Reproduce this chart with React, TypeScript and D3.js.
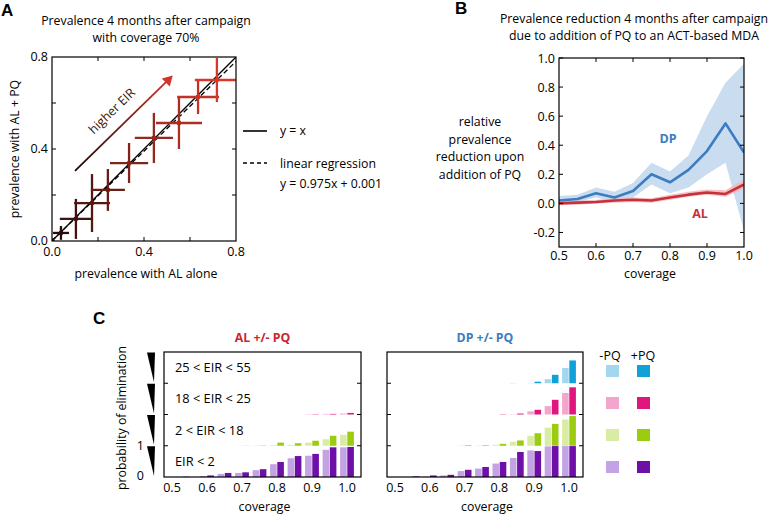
import React from 'react';
import * as d3 from 'd3';

// ---------- Panel A data ----------
const prevAlAlone = [0.0, 0.039, 0.104, 0.174, 0.243, 0.335, 0.443, 0.552, 0.635, 0.717];
const prevAlPq = [0.0, 0.035, 0.096, 0.165, 0.222, 0.339, 0.448, 0.513, 0.626, 0.7];
const errAlAlone = [0.01, 0.035, 0.07, 0.078, 0.074, 0.083, 0.083, 0.1, 0.091, 0.096];
const errAlPq = [0.01, 0.03, 0.087, 0.126, 0.091, 0.087, 0.109, 0.113, 0.074, 0.096];
const regSlope = 0.975;
const regIntercept = 0.001;
const ticksA = [0, 0.2, 0.4, 0.6, 0.8];
const labelsA = [0, 0.4, 0.8];

// ---------- Panel B data ----------
const coverage = [0.5, 0.55, 0.6, 0.65, 0.7, 0.75, 0.8, 0.85, 0.9, 0.95, 1.0];
const dpMean = [0.02, 0.03, 0.07, 0.04, 0.085, 0.2, 0.145, 0.23, 0.36, 0.55, 0.35];
const dpLow = [0.0, 0.01, 0.04, 0.01, 0.04, 0.13, 0.07, 0.11, 0.2, 0.28, -0.19];
const dpHigh = [0.05, 0.06, 0.11, 0.08, 0.14, 0.28, 0.22, 0.33, 0.6, 0.83, 0.96];
const alMean = [0.0, 0.005, 0.01, 0.02, 0.025, 0.02, 0.04, 0.06, 0.075, 0.065, 0.13];
const alLow = [-0.01, -0.01, 0.0, 0.005, 0.01, 0.005, 0.025, 0.045, 0.06, 0.045, 0.1];
const alHigh = [0.015, 0.02, 0.025, 0.035, 0.04, 0.035, 0.06, 0.08, 0.095, 0.09, 0.165];
const ticksBy = [-0.2, 0, 0.2, 0.4, 0.6, 0.8, 1.0];
const ticksBx = [0.5, 0.6, 0.7, 0.8, 0.9, 1.0];

// ---------- Panel C data (probability of elimination) ----------
const eirBands = ['EIR < 2', '2 < EIR < 18', '18 < EIR < 25', '25 < EIR < 55'];
// AL -PQ / +PQ
const alNoPqEir2 = [0, 0.02, 0.03, 0.1, 0.13, 0.22, 0.41, 0.6, 0.68, 0.87, 0.95];
const alPqEir2 = [0, 0.0, 0.05, 0.13, 0.15, 0.25, 0.48, 0.67, 0.74, 0.95, 0.96];
const alNoPqEir18 = [0, 0, 0, 0, 0.005, 0.01, 0.02, 0.03, 0.1, 0.21, 0.35];
const alPqEir18 = [0, 0, 0, 0, 0.005, 0.01, 0.1, 0.08, 0.16, 0.32, 0.45];
const alNoPqEir25 = [0, 0, 0, 0, 0, 0, 0, 0, 0.01, 0.02, 0.03];
const alPqEir25 = [0, 0, 0, 0, 0, 0, 0, 0, 0.01, 0.02, 0.05];
const alNoPqEir55 = [0, 0, 0, 0, 0, 0, 0, 0, 0, 0, 0];
const alPqEir55 = [0, 0, 0, 0, 0, 0, 0, 0, 0, 0, 0];
// DP -PQ / +PQ
const dpNoPqEir2 = [0, 0, 0.01, 0.05, 0.19, 0.27, 0.43, 0.61, 0.85, 0.98, 0.99];
const dpPqEir2 = [0, 0.02, 0.05, 0.07, 0.23, 0.32, 0.48, 0.8, 0.83, 0.99, 0.99];
const dpNoPqEir18 = [0, 0, 0, 0, 0.01, 0.01, 0.03, 0.13, 0.32, 0.58, 0.84];
const dpPqEir18 = [0, 0, 0, 0, 0.02, 0.02, 0.06, 0.17, 0.4, 0.7, 0.95];
const dpNoPqEir25 = [0, 0, 0, 0, 0, 0, 0, 0.01, 0.1, 0.27, 0.69];
const dpPqEir25 = [0, 0, 0, 0, 0, 0, 0.01, 0.03, 0.15, 0.47, 0.87];
const dpNoPqEir55 = [0, 0, 0, 0, 0, 0, 0, 0.01, 0.01, 0.13, 0.49];
const dpPqEir55 = [0, 0, 0, 0, 0, 0, 0, 0, 0.05, 0.27, 0.73];
const ticksCx = [0.5, 0.6, 0.7, 0.8, 0.9, 1.0];

const bandLight = ['#c3a3e3', '#d9eca4', '#f3a5cb', '#a3d7ee'];
const bandDark = ['#6e0fa8', '#9bcc12', '#e0157d', '#12a0d8'];

const FONT = "'Open Sans', sans-serif";
const BOLDF = "'Liberation Sans', Arial, sans-serif";

function PanelA() {
  const x = d3.scaleLinear().domain([0, 0.8]).range([52, 236]);
  const y = d3.scaleLinear().domain([0, 0.8]).range([241, 57]);
  const col = d3.scaleLinear<string>().domain([0, prevAlAlone.length - 1]).range(['#120808', '#d8382a']).interpolate(d3.interpolateRgb);
  const line = d3.line<number>().x((v) => x(v)).y((v) => y(v));
  const regLine = d3.line<number>().x((v) => x(v)).y((v) => y(regSlope * v + regIntercept));
  const ax0 = x(0.1), ay0 = y(0.305), ax1 = x(0.525), ay1 = y(0.72);
  const ang = (Math.atan2(ay1 - ay0, ax1 - ax0) * 180) / Math.PI;
  return (
    <g>
      <defs>
        <linearGradient id="arrGrad" gradientUnits="userSpaceOnUse" x1={ax0} y1={ay0} x2={ax1} y2={ay1}>
          <stop offset="0" stopColor="#1a0808" />
          <stop offset="1" stopColor="#d0362a" />
        </linearGradient>
        <clipPath id="clipA"><rect x={52} y={57} width={184} height={184} /></clipPath>
      </defs>
      <text x={1} y={16} fontFamily={BOLDF} fontWeight="bold" fontSize={17}>A</text>
      <text x={146} y={25} textAnchor="middle" fontFamily={FONT} fontSize={12.3}>Prevalence 4 months after campaign</text>
      <text x={146} y={42} textAnchor="middle" fontFamily={FONT} fontSize={12.3}>with coverage 70%</text>
      <g clipPath="url(#clipA)">
        <path d={line([0, 0.8]) || ''} stroke="#000" strokeWidth={1.3} fill="none" />
        <path d={regLine([0, 0.8]) || ''} stroke="#000" strokeWidth={1.3} strokeDasharray="5,3" fill="none" />
        {prevAlAlone.map((v, i) => (
          <g key={i} stroke={col(i)} strokeWidth={2.3}>
            <line x1={x(v - errAlAlone[i])} x2={x(v + errAlAlone[i])} y1={y(prevAlPq[i])} y2={y(prevAlPq[i])} />
            <line x1={x(v)} x2={x(v)} y1={y(prevAlPq[i] - errAlPq[i])} y2={y(prevAlPq[i] + errAlPq[i])} />
            <circle cx={x(v)} cy={y(prevAlPq[i])} r={2.4} fill={col(i)} stroke="none" />
          </g>
        ))}
      </g>
      <line x1={ax0} y1={ay0} x2={ax1 - 6} y2={ay1 + 6} stroke="url(#arrGrad)" strokeWidth={1.8} />
      <path d={`M${ax1},${ay1} l-11,3 l8,8 z`} fill="#d0362a" />
      <text transform={`translate(${(ax0 + ax1) / 2 - 9},${(ay0 + ay1) / 2 - 9}) rotate(${ang})`} textAnchor="middle" fontFamily={FONT} fontSize={12.5} fill="#3a1410">higher EIR</text>
      <rect x={52} y={57} width={184} height={184} fill="none" stroke="#000" strokeWidth={1.2} />
      {ticksA.slice(1, -1).map((t) => (
        <g key={t} stroke="#000" strokeWidth={1}>
          <line x1={x(t)} x2={x(t)} y1={241} y2={237} />
          <line x1={x(t)} x2={x(t)} y1={57} y2={61} />
          <line x1={52} x2={56} y1={y(t)} y2={y(t)} />
          <line x1={236} x2={232} y1={y(t)} y2={y(t)} />
        </g>
      ))}
      {labelsA.map((t) => (
        <g key={t} fontFamily={FONT} fontSize={12.5}>
          <text x={48} y={y(t) + 4} textAnchor="end">{t.toFixed(1)}</text>
          <text x={x(t)} y={256} textAnchor="middle">{t.toFixed(1)}</text>
        </g>
      ))}
      <text transform={`translate(19,149) rotate(-90)`} textAnchor="middle" fontFamily={FONT} fontSize={12.3}>prevalence with AL + PQ</text>
      <text x={146} y={278} textAnchor="middle" fontFamily={FONT} fontSize={12.3}>prevalence with AL alone</text>
      <line x1={243} x2={267} y1={131} y2={131} stroke="#000" strokeWidth={1.6} />
      <text x={280} y={135} fontFamily={FONT} fontSize={12.3}>y = x</text>
      <line x1={243} x2={267} y1={163} y2={163} stroke="#000" strokeWidth={1.6} strokeDasharray="4,3" />
      <text x={280} y={168} fontFamily={FONT} fontSize={12.3}>linear regression</text>
      <text x={280} y={188} fontFamily={FONT} fontSize={12.3}>y = 0.975x + 0.001</text>
    </g>
  );
}

function PanelB() {
  const x = d3.scaleLinear().domain([0.5, 1.0]).range([559, 744]);
  const y = d3.scaleLinear().domain([-0.3, 1.0]).range([247, 58]);
  const idx = coverage.map((_, i) => i);
  const area = (lo: number[], hi: number[]) =>
    d3.area<number>().x((i) => x(coverage[i])).y0((i) => y(lo[i])).y1((i) => y(hi[i]))(idx) || '';
  const ln = (m: number[]) => d3.line<number>().x((i) => x(coverage[i])).y((i) => y(m[i]))(idx) || '';
  return (
    <g>
      <defs>
        <clipPath id="clipB"><rect x={559} y={58} width={185} height={189} /></clipPath>
      </defs>
      <text x={455} y={14} fontFamily={BOLDF} fontWeight="bold" fontSize={17}>B</text>
      <text x={634} y={23} textAnchor="middle" fontFamily={FONT} fontSize={12.3}>Prevalence reduction 4 months after campaign</text>
      <text x={634} y={40} textAnchor="middle" fontFamily={FONT} fontSize={12.3}>due to addition of PQ to an ACT-based MDA</text>
      <g clipPath="url(#clipB)">
        <path d={area(dpLow, dpHigh)} fill="#c9dcf0" />
        <path d={area(alLow, alHigh)} fill="#f2b7bb" opacity={0.85} />
        <path d={ln(dpMean)} stroke="#3b7dc0" strokeWidth={2.6} fill="none" strokeLinejoin="round" />
        <path d={ln(alMean)} stroke="#c8303a" strokeWidth={2.6} fill="none" strokeLinejoin="round" />
      </g>
      <rect x={559} y={58} width={185} height={189} fill="none" stroke="#000" strokeWidth={1.2} />
      {ticksBy.map((t) => (
        <g key={t} stroke="#000">
          <line x1={559} x2={563} y1={y(t)} y2={y(t)} />
          <line x1={744} x2={740} y1={y(t)} y2={y(t)} />
        </g>
      ))}
      {ticksBx.slice(1, -1).map((t) => (
        <g key={t} stroke="#000">
          <line x1={x(t)} x2={x(t)} y1={58} y2={62} />
          <line x1={x(t)} x2={x(t)} y1={247} y2={243} />
        </g>
      ))}
      {ticksBy.map((t) => (
        <text key={t} x={555} y={y(t) + 4.5} textAnchor="end" fontFamily={FONT} fontSize={12.5}>{t.toFixed(1)}</text>
      ))}
      {ticksBx.map((t) => (
        <text key={t} x={x(t)} y={260} textAnchor="middle" fontFamily={FONT} fontSize={12.5}>{t.toFixed(1)}</text>
      ))}
      <text x={650} y={278} textAnchor="middle" fontFamily={FONT} fontSize={12.3}>coverage</text>
      {['relative', 'prevalence', 'reduction upon', 'addition of PQ'].map((s, i) => (
        <text key={s} x={480} y={126 + i * 17.5} textAnchor="middle" fontFamily={FONT} fontSize={12.3}>{s}</text>
      ))}
      <text x={668} y={143} textAnchor="middle" fontFamily={FONT} fontWeight="bold" fontSize={12.5} fill="#3b7dc0">DP</text>
      <text x={700} y={218} textAnchor="middle" fontFamily={FONT} fontWeight="bold" fontSize={12.5} fill="#c8303a">AL</text>
    </g>
  );
}

type BarSet = { noPq: number[]; pq: number[] };

function PanelCBars({ left, right, sets, title, titleColor, showBandLabels }: { left: number; right: number; sets: BarSet[]; title: string; titleColor: string; showBandLabels: boolean }) {
  const top = 352, bottom = 477;
  const bh = (bottom - top) / 4;
  const x = d3.scaleLinear().domain([0.5, 1.0]).range([left + 8, right - 14]);
  const bw = 6.6;
  return (
    <g>
      <text x={(left + right) / 2} y={342} textAnchor="middle" fontFamily={FONT} fontWeight="bold" fontSize={12.3} fill={titleColor}>{title}</text>
      {sets.map((s, k) => {
        const y = d3.scaleLinear().domain([0, 1]).range([bottom - k * bh, bottom - (k + 1) * bh]);
        return (
          <g key={k}>
            {coverage.map((c, i) => (
              <g key={i}>
                {s.noPq[i] > 0 && <rect x={x(c) - bw - 0.3} width={bw} y={y(s.noPq[i])} height={y(0) - y(s.noPq[i])} fill={bandLight[k]} />}
                {s.pq[i] > 0 && <rect x={x(c) + 0.3} width={bw} y={y(s.pq[i])} height={y(0) - y(s.pq[i])} fill={bandDark[k]} />}
              </g>
            ))}
            {showBandLabels && (
              <text x={left + 11} y={bottom - k * bh - bh / 2 + 4.5} fontFamily={FONT} fontSize={12.8}>{eirBands[k]}</text>
            )}
          </g>
        );
      })}
      <rect x={left} y={top} width={right - left} height={bottom - top} fill="none" stroke="#000" strokeWidth={1.2} />
      {[1, 2, 3].map((k) => (
        <g key={k} stroke="#000">
          <line x1={left} x2={left + 4} y1={bottom - k * bh} y2={bottom - k * bh} />
          <line x1={right} x2={right - 4} y1={bottom - k * bh} y2={bottom - k * bh} />
        </g>
      ))}
      {ticksCx.map((t) => (
        <text key={t} x={x(t)} y={492} textAnchor="middle" fontFamily={FONT} fontSize={12.5}>{t.toFixed(1)}</text>
      ))}
      <text x={(left + right) / 2 + 2} y={511} textAnchor="middle" fontFamily={FONT} fontSize={12.3}>coverage</text>
    </g>
  );
}

function PanelC() {
  const alSets: BarSet[] = [
    { noPq: alNoPqEir2, pq: alPqEir2 },
    { noPq: alNoPqEir18, pq: alPqEir18 },
    { noPq: alNoPqEir25, pq: alPqEir25 },
    { noPq: alNoPqEir55, pq: alPqEir55 },
  ];
  const dpSets: BarSet[] = [
    { noPq: dpNoPqEir2, pq: dpPqEir2 },
    { noPq: dpNoPqEir18, pq: dpPqEir18 },
    { noPq: dpNoPqEir25, pq: dpPqEir25 },
    { noPq: dpNoPqEir55, pq: dpPqEir55 },
  ];
  const bottom = 477, bh = (477 - 352) / 4;
  return (
    <g>
      <text x={93} y={324} fontFamily={BOLDF} fontWeight="bold" fontSize={17}>C</text>
      <PanelCBars left={164} right={361} sets={alSets} title="AL +/- PQ" titleColor="#c8282e" showBandLabels={true} />
      <PanelCBars left={387} right={583} sets={dpSets} title="DP +/-  PQ" titleColor="#3b7dc0" showBandLabels={false} />
      {[0, 1, 2, 3].map((k) => {
        const b = bottom - k * bh;
        return <path key={k} d={`M147,${b - bh + 0.5} L155,${b - bh + 0.5} L154,${b - 1} Z`} fill="#000" />;
      })}
      <text x={144} y={450} textAnchor="end" fontFamily={FONT} fontSize={12.5}>1</text>
      <text x={144} y={480} textAnchor="end" fontFamily={FONT} fontSize={12.5}>0</text>
      <text transform="translate(126,418) rotate(-90)" textAnchor="middle" fontFamily={FONT} fontSize={12.3}>probability of elimination</text>
      <text x={610} y={360} textAnchor="middle" fontFamily={FONT} fontSize={12.5}>-PQ</text>
      <text x={643} y={360} textAnchor="middle" fontFamily={FONT} fontSize={12.5}>+PQ</text>
      {[3, 2, 1, 0].map((k, r) => (
        <g key={k}>
          <rect x={606} y={365 + r * 32} width={13} height={12} fill={bandLight[k]} />
          <rect x={637} y={365 + r * 32} width={13} height={12} fill={bandDark[k]} />
        </g>
      ))}
    </g>
  );
}

export default function App() {
  return (
    <svg width={778} height={514} style={{ position: 'absolute', left: 0, top: 0, background: '#fff' }}>
      <rect width={778} height={514} fill="#fff" />
      <PanelA />
      <PanelB />
      <PanelC />
    </svg>
  );
}
